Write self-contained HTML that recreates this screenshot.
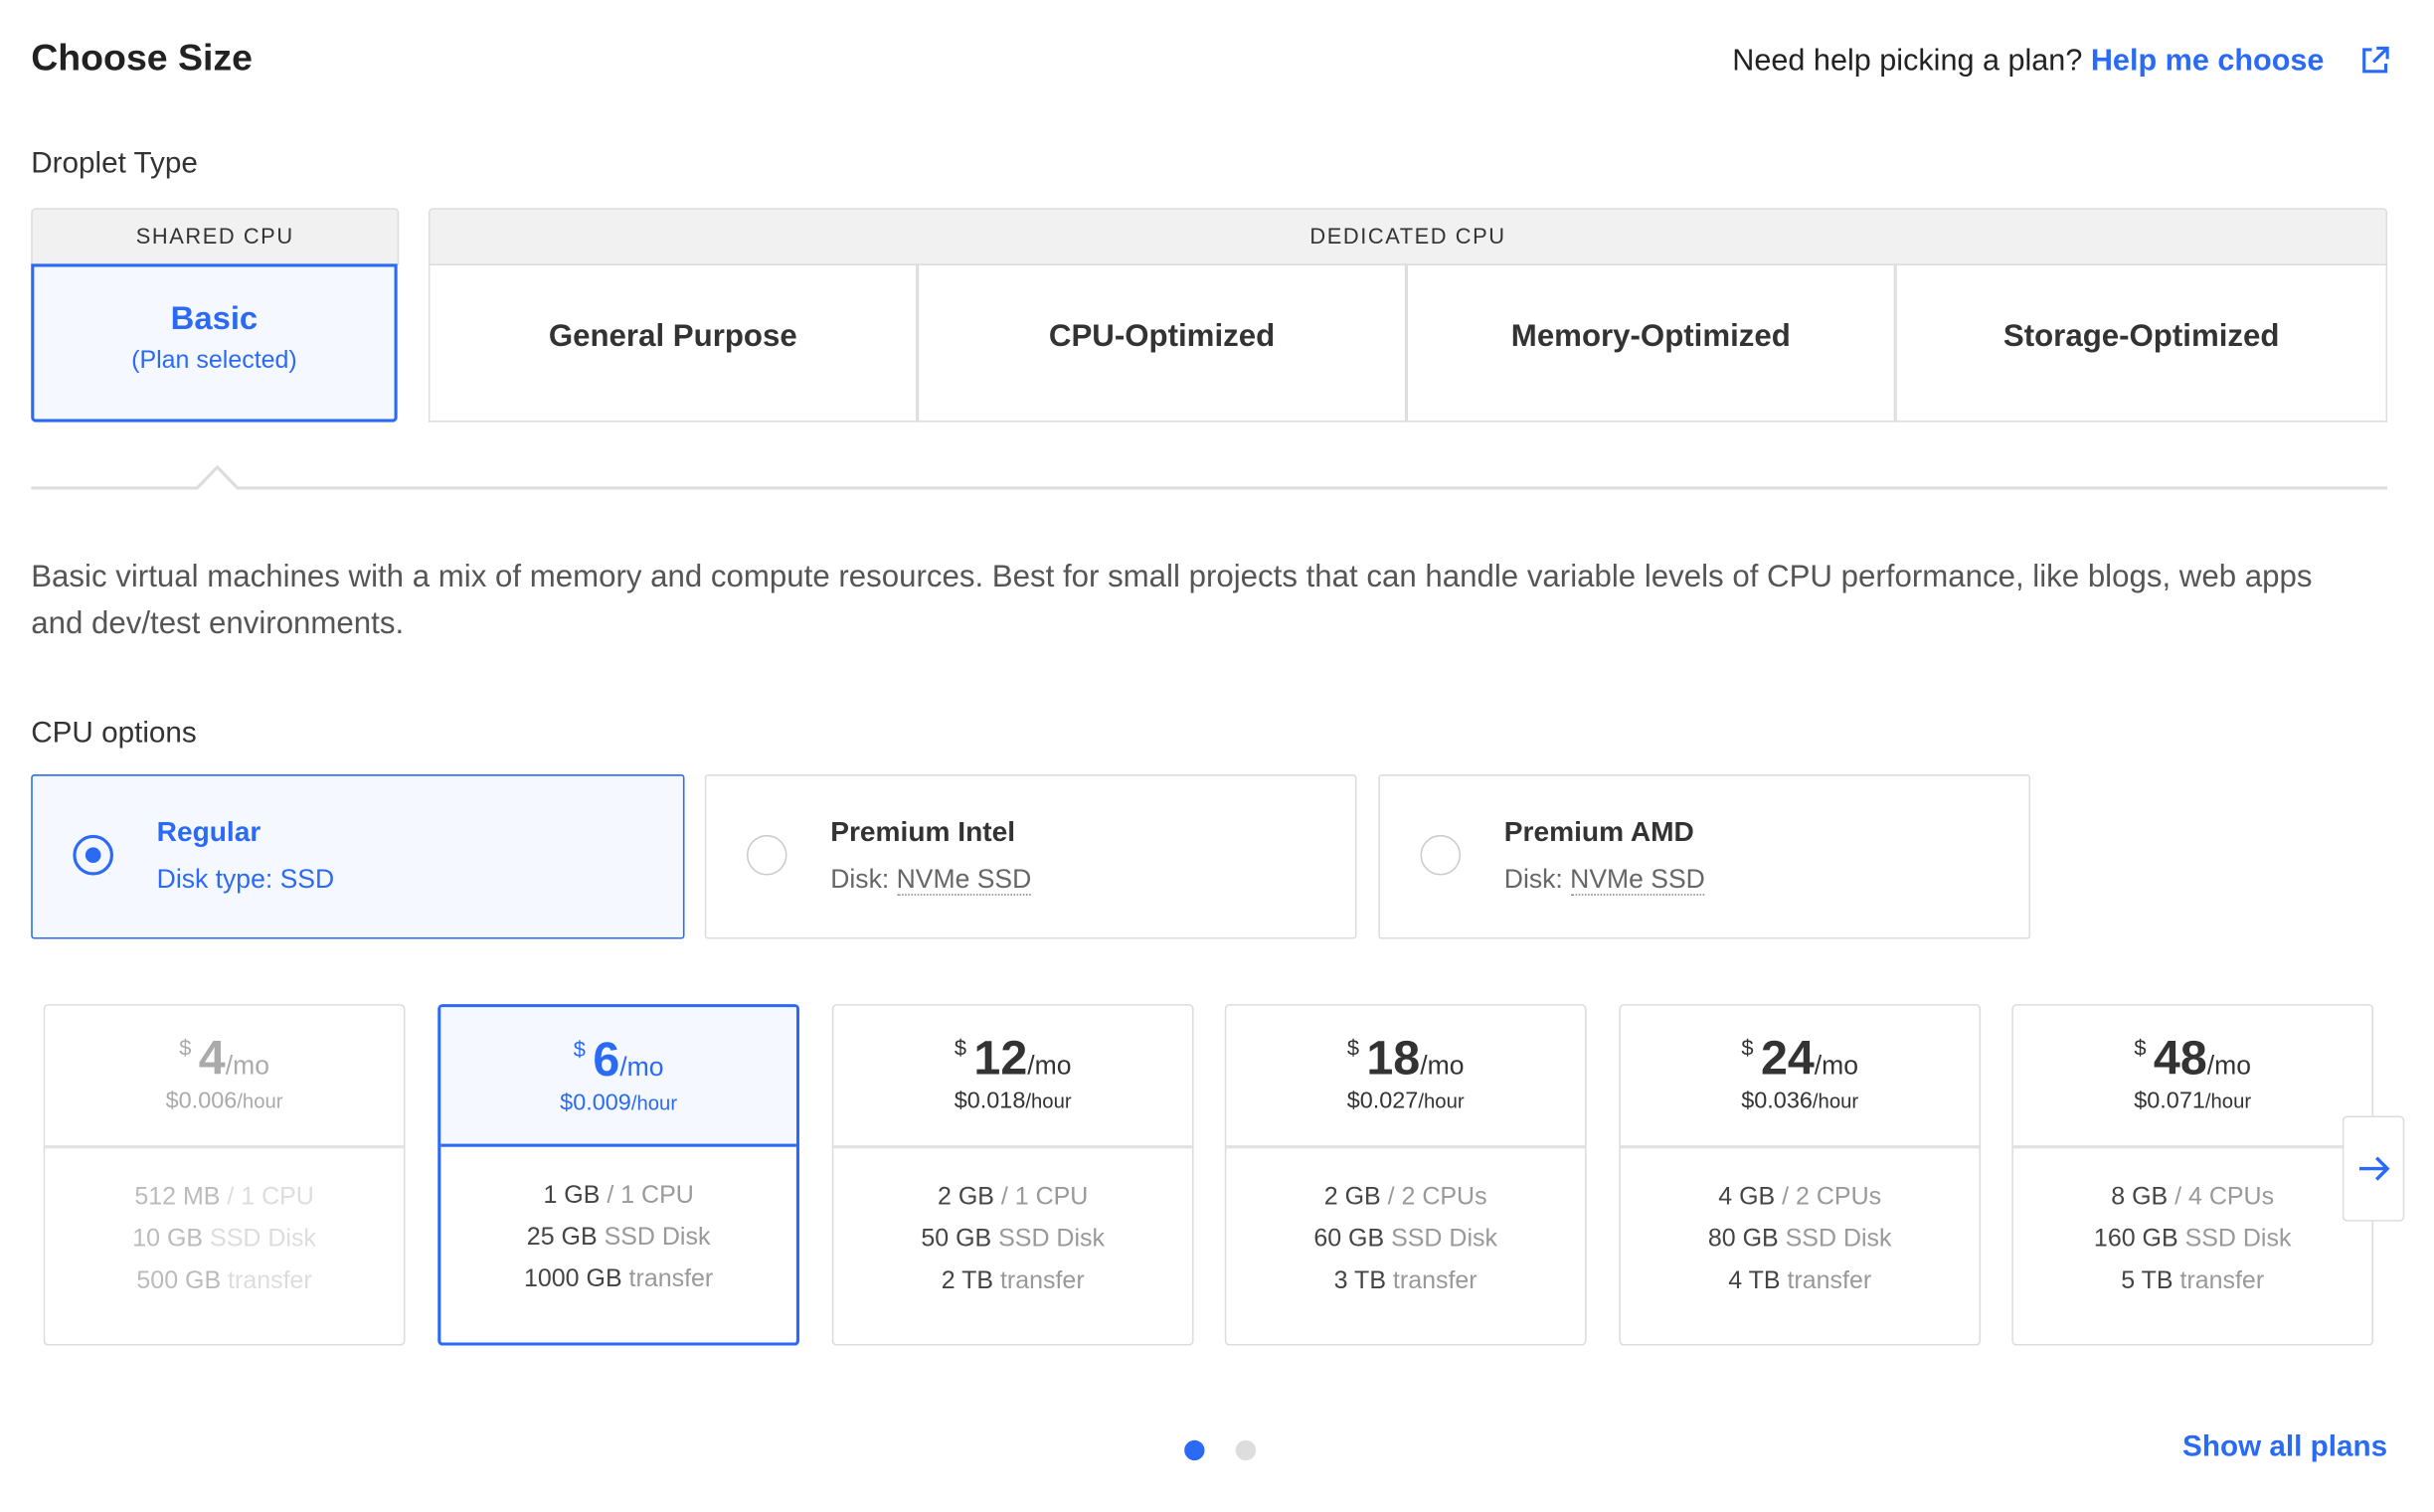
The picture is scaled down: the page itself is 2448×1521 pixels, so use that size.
<!DOCTYPE html>
<html><head><meta charset="utf-8"><style>
html,body{margin:0;padding:0;background:#fff;}
body{width:2448px;height:1520px;overflow:hidden;}
#w{position:absolute;left:0;top:0;width:1568px;height:974px;transform:scale(1.5612);transform-origin:0 0;font-family:"Liberation Sans",sans-serif;color:#222;}
.a{position:absolute;}
.t{position:absolute;white-space:nowrap;}
.blue{color:#2b6af5 !important;}
.hdr{position:absolute;background:#f1f1f1;border:1px solid #ddd;box-sizing:border-box;font-size:14px;letter-spacing:1px;color:#333;text-align:center;line-height:34px;}
.cell{position:absolute;top:170px;height:102px;width:315px;box-sizing:border-box;border:1px solid #ddd;border-top:none;font-size:20px;font-weight:bold;color:#333;text-align:center;line-height:94px;}
.cpu{position:absolute;top:499px;height:106px;width:420px;box-sizing:border-box;border:1px solid #ddd;border-radius:2px;}
.radio{position:absolute;left:26px;top:38px;width:26px;height:26px;border-radius:50%;box-sizing:border-box;border:1px solid #ccc;}
.cpu .n{position:absolute;left:80px;top:26px;font-size:18px;font-weight:bold;color:#333;}
.cpu .d{position:absolute;left:80px;top:57px;font-size:17px;color:#666;}
.dot{border-bottom:1px dotted #888;}
.pc{position:absolute;top:647px;width:233px;height:220px;box-sizing:border-box;border:1px solid #ddd;border-radius:3px;}
.pc .top{position:absolute;left:0;right:0;top:0;height:90px;border-bottom:2px solid #e2e2e2;text-align:center;}
.pc .pr{position:absolute;left:0;right:0;top:16px;font-size:17px;color:#333;}
.pc .pr b{font-size:31px;}
.pc .pr s{text-decoration:none;font-size:14px;vertical-align:12px;}
.pc .hr{position:absolute;left:0;right:0;top:53px;font-size:15px;color:#333;}
.pc .hr small{font-size:13px;}
.pc .sp{position:absolute;left:0;right:0;top:110px;text-align:center;font-size:16px;line-height:27px;color:#444;}
.pc .sp i{font-style:normal;color:#999;}
.dim .pr,.dim .hr{color:#aaa;}
.dim .sp{color:#bbb;}.dim .sp i{color:#ddd;}
</style></head><body><div id="w">
<div class="t" style="left:20px;top:24px;font-size:24px;font-weight:bold;color:#222;">Choose Size</div>
<div class="t" style="left:1116px;top:28px;font-size:19.6px;color:#222;">Need help picking a plan? <span class="blue" style="font-weight:bold;">Help me choose</span></div>
<svg class="a" style="left:1520px;top:29px" width="20" height="20" viewBox="0 0 20 20"><path d="M8 3H3v14h14v-5" fill="none" stroke="#2b6af5" stroke-width="2"/><path d="M11 2h7v7M18 2l-9 9" fill="none" stroke="#2b6af5" stroke-width="2"/></svg>
<div class="t" style="left:20px;top:95px;font-size:19px;color:#333;">Droplet Type</div>

<div class="hdr" style="left:20px;top:134px;width:237px;height:37px;border-radius:3px 3px 0 0;">SHARED CPU</div>
<div class="a" style="left:20px;top:170px;width:236px;height:102px;box-sizing:border-box;border:2px solid #2b6af5;border-radius:0 0 3px 3px;background:#f5f8fe;text-align:center;">
<div class="blue" style="margin-top:22px;font-size:21px;font-weight:bold;">Basic</div>
<div class="blue" style="margin-top:6px;font-size:16px;">(Plan selected)</div></div>

<div class="hdr" style="left:276px;top:134px;width:1262px;height:37px;border-radius:3px 3px 0 0;">DEDICATED CPU</div>
<div class="cell" style="left:276px;">General Purpose</div>
<div class="cell" style="left:591px;">CPU-Optimized</div>
<div class="cell" style="left:906px;">Memory-Optimized</div>
<div class="cell" style="left:1221px;width:317px;">Storage-Optimized</div>

<svg class="a" style="left:20px;top:296px" width="1518" height="22"><path d="M0 18.5H107L120 5L133 18.5H1518" fill="none" stroke="#ddd" stroke-width="2"/></svg>

<div class="a" style="left:20px;top:357px;width:1540px;font-size:20px;line-height:30px;color:#555;white-space:nowrap;">Basic virtual machines with a mix of memory and compute resources. Best for small projects that can handle variable levels of CPU performance, like blogs, web apps<br>and dev/test environments.</div>
<div class="t" style="left:20px;top:462px;font-size:19px;color:#333;">CPU options</div>

<div class="cpu" style="left:20px;border:1px solid #2b6af5;background:#f5f8fe;width:421px;">
<div class="radio" style="border:2px solid #2b6af5;"><div style="position:absolute;left:6px;top:6px;width:10px;height:10px;border-radius:50%;background:#2b6af5;"></div></div>
<div class="n blue">Regular</div><div class="d blue">Disk type: SSD</div></div>
<div class="cpu" style="left:454px;"><div class="radio"></div><div class="n">Premium Intel</div><div class="d">Disk: <span class="dot">NVMe SSD</span></div></div>
<div class="cpu" style="left:888px;"><div class="radio"></div><div class="n">Premium AMD</div><div class="d">Disk: <span class="dot">NVMe SSD</span></div></div>

<div class="pc dim" style="left:28px;"><div class="top"><div class="pr"><s>$</s> <b>4</b>/mo</div><div class="hr">$0.006<small>/hour</small></div></div>
<div class="sp">512 MB <i>/ 1 CPU</i><br>10 GB <i>SSD Disk</i><br>500 GB <i>transfer</i></div></div>
<div class="pc" style="left:282px;border:2px solid #2b6af5;"><div class="top" style="background:#f5f8fe;border-bottom:2px solid #2b6af5;height:88px;"><div class="pr blue"><s>$</s> <b>6</b>/mo</div><div class="hr blue">$0.009<small>/hour</small></div></div>
<div class="sp" style="top:108px">1 GB <i>/ 1 CPU</i><br>25 GB <i>SSD Disk</i><br>1000 GB <i>transfer</i></div></div>
<div class="pc" style="left:536px;"><div class="top"><div class="pr"><s>$</s> <b>12</b>/mo</div><div class="hr">$0.018<small>/hour</small></div></div>
<div class="sp">2 GB <i>/ 1 CPU</i><br>50 GB <i>SSD Disk</i><br>2 TB <i>transfer</i></div></div>
<div class="pc" style="left:789px;"><div class="top"><div class="pr"><s>$</s> <b>18</b>/mo</div><div class="hr">$0.027<small>/hour</small></div></div>
<div class="sp">2 GB <i>/ 2 CPUs</i><br>60 GB <i>SSD Disk</i><br>3 TB <i>transfer</i></div></div>
<div class="pc" style="left:1043px;"><div class="top"><div class="pr"><s>$</s> <b>24</b>/mo</div><div class="hr">$0.036<small>/hour</small></div></div>
<div class="sp">4 GB <i>/ 2 CPUs</i><br>80 GB <i>SSD Disk</i><br>4 TB <i>transfer</i></div></div>
<div class="pc" style="left:1296px;"><div class="top"><div class="pr"><s>$</s> <b>48</b>/mo</div><div class="hr">$0.071<small>/hour</small></div></div>
<div class="sp">8 GB <i>/ 4 CPUs</i><br>160 GB <i>SSD Disk</i><br>5 TB <i>transfer</i></div></div>

<div class="a" style="left:1509px;top:719px;width:40px;height:68px;box-sizing:border-box;border:1px solid #ddd;border-radius:3px;background:#fff;">
<svg width="38" height="66"><path d="M10 33H28M21 26L28 33L21 40" fill="none" stroke="#2b6af5" stroke-width="2.2"/></svg></div>

<div class="a" style="left:763px;top:928px;width:13px;height:13px;border-radius:50%;background:#2b6af5;"></div>
<div class="a" style="left:796px;top:928px;width:13px;height:13px;border-radius:50%;background:#ddd;"></div>
<div class="t blue" style="left:1406px;top:922px;font-size:19px;font-weight:bold;">Show all plans</div>
</div></body></html>
